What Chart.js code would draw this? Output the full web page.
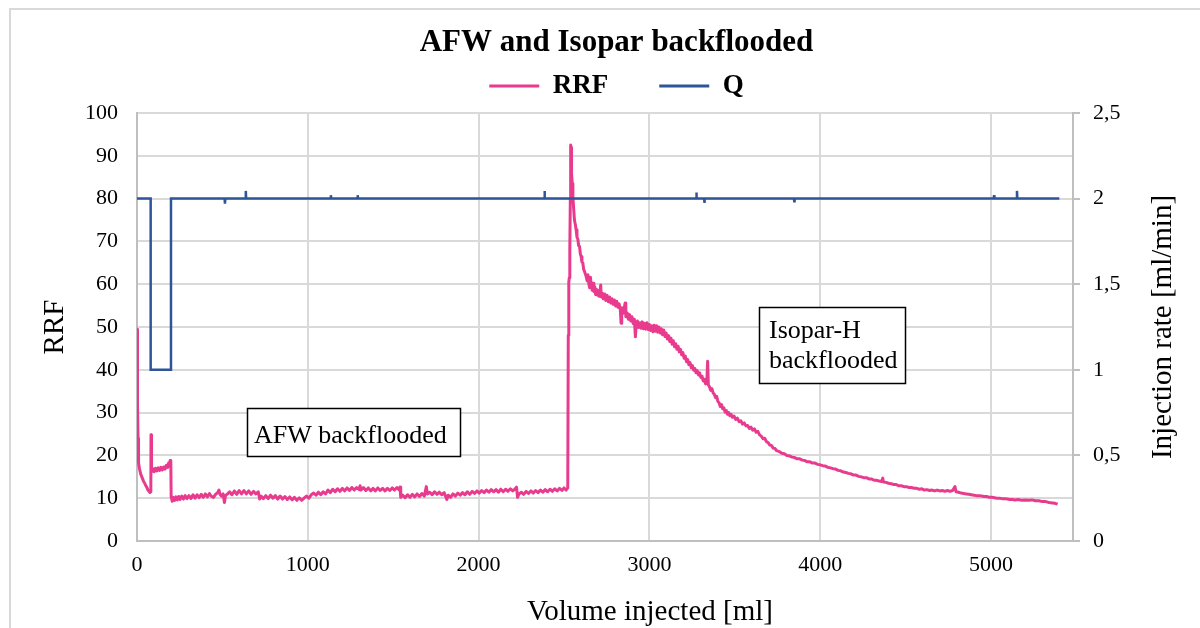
<!DOCTYPE html>
<html>
<head>
<meta charset="utf-8">
<script src="https://cdn.jsdelivr.net/npm/chart.js@4.4.1/dist/chart.umd.min.js"></script>
<style>
  html, body { margin: 0; padding: 0; background: #fff; width: 1200px; height: 628px; overflow: hidden; }
  #wrap { position: relative; width: 1200px; height: 628px; }
  #frame { position: absolute; left: 9px; top: 8px; width: 1400px; height: 900px;
           border-left: 2px solid #d9d9d9; border-top: 2px solid #d9d9d9; }
  canvas { position: absolute; left: 0; top: 0; }
</style>
</head>
<body>
<div id="wrap">
  <div id="frame"></div>
  <canvas id="chart" width="1200" height="628"></canvas>
</div>
<script>
// ---------------- DATA ----------------
const chartTitle = 'AFW and Isopar backflooded';
const seriesNames = ['RRF', 'Q'];
const xAxisTitle = 'Volume injected [ml]';
const yAxisTitle = 'RRF';
const y1AxisTitle = 'Injection rate [ml/min]';
const xTickValues = [0, 1000, 2000, 3000, 4000, 5000];
const yTickValues = [0, 10, 20, 30, 40, 50, 60, 70, 80, 90, 100];
const y1TickValues = [0, 0.5, 1, 1.5, 2, 2.5];

// RRF: [volume injected (ml), RRF]
const rrfInitial = [
  [0,49.5],[2,42],[4,32],[6,24],[8,20],[10,18.2],[15,16.8],[22,15.6],[30,14.8],[38,14.0],
  [46,13.4],[52,12.9],[57,12.6],[63,12.0],[70,11.6],[76,11.3],[79,11.9],[81,11.5],[82,24.8],
  [84,17.5],[86,16.2],[92,16.9],[100,16.2],[108,17.0],[116,16.4],[124,17.1],[132,16.5],
  [140,17.2],[148,16.6],[156,17.3],[164,16.8],[172,17.7],[180,17.2],[186,18.3],[190,17.6],
  [194,18.8],[198,18.2],[200,10.2]
];
const rrfAfw = [
  [202,10.1],[206,9.3],[212,10.2],[220,9.5],[228,10.3],[236,9.6],[244,10.4],[252,9.7],[262,10.5],
  [272,9.8],[282,10.6],[292,9.9],[304,10.6],[316,9.9],[328,10.8],[340,10.0],[352,10.8],[364,10.1],
  [376,10.9],[388,10.2],[400,11.0],[412,10.3],[424,11.1],[436,10.4],[448,10.2],[460,10.9],[472,11.3],
  [480,11.9],[486,10.9],[494,10.5],[504,11.0],[512,9.0],[518,10.6],[530,11.0],[542,11.5],[556,10.8],
  [570,11.7],[584,10.9],[598,11.8],[612,11.0],[626,11.8],[640,11.0],[654,11.7],[668,10.9],[682,11.6],
  [696,11.0],[710,11.5],[718,9.8],[726,10.5],[740,9.9],[754,10.6],[768,9.9],[782,10.7],[796,10.0],
  [810,10.6],[824,9.8],[838,10.5],[852,9.8],[866,10.4],[880,9.7],[894,10.3],[908,9.6],[922,10.2],
  [936,9.5],[950,10.1],[964,9.5],[978,10.0],[992,10.5],[1006,10.0],[1020,10.8],[1034,11.2],[1048,10.7],
  [1062,11.4],[1076,10.8],[1090,11.5],[1104,11.0],[1118,11.9],[1132,11.3],[1146,12.1],[1160,11.5],
  [1174,12.2],[1188,11.6],[1202,12.3],[1216,11.7],[1230,12.4],[1244,11.8],[1258,12.5],[1272,11.9],
  [1286,12.5],[1300,12.0],[1306,12.9],[1312,11.9],[1326,12.5],[1340,11.8],[1354,12.4],[1368,11.7],
  [1382,12.3],[1396,11.7],[1410,12.4],[1424,11.8],[1438,12.3],[1452,11.7],[1466,12.3],[1480,11.8],
  [1494,12.4],[1508,11.9],[1522,12.5],[1534,12.0],[1540,12.6],[1544,10.2],[1556,10.7],[1570,10.1],
  [1584,10.8],[1598,10.2],[1612,10.9],[1626,10.3],[1640,11.0],[1654,10.4],[1668,11.1],[1682,10.5],
  [1694,12.7],[1700,11.0],[1714,11.4],[1728,10.8],[1742,11.5],[1756,10.9],[1770,11.4],[1784,10.8],
  [1798,11.3],[1808,10.3],[1814,9.7],[1822,10.7],[1836,10.2],[1850,11.0],[1864,10.5],[1878,11.2],
  [1892,10.7],[1906,11.3],[1920,10.8],[1934,11.5],[1948,10.9],[1962,11.6],[1976,11.1],[1990,11.7],
  [2004,11.2],[2018,11.8],[2032,11.3],[2046,11.9],[2060,11.4],[2074,12.0],[2088,11.5],[2102,12.0],
  [2116,11.4],[2130,12.1],[2144,11.5],[2158,12.1],[2172,11.6],[2186,12.2],[2200,11.7],[2214,12.2],
  [2222,12.6],[2228,10.2],[2236,11.0],[2250,11.4],[2264,10.9],[2278,11.6],[2292,11.1],[2306,11.7],
  [2320,11.2],[2334,11.8],[2348,11.3],[2362,11.9],[2376,11.4],[2390,12.0],[2404,11.5],[2418,12.1],
  [2432,11.6],[2446,12.2],[2460,11.7],[2474,12.3],[2488,11.8],[2500,12.4],[2512,11.9],[2522,12.4]
];
const rrfIsoparPeak = [
  [2525,48],[2527,58],[2529,60.5],[2531,61.5],[2533,63],[2535,68],[2537,80],[2539,92.5],[2541,92],
  [2543,89],[2545,86],[2548,83.5],[2552,80.5],[2556,78],[2561,75],[2566,74],[2571,72.7],[2576,71],
  [2581,70.5],[2586,69],[2591,68.8],[2596,67],[2600,66.5],[2605,65.2],[2610,65],[2615,63.5],[2620,63],
  [2625,62.4],[2630,61.8],[2635,60.8],[2640,62.2],[2645,60.2],[2650,59.2],[2655,61.6],[2660,59.5],
  [2665,58.6],[2670,60.2],[2675,58.3],[2680,59.4],[2685,57.6],[2690,58.8],[2695,57.5],[2700,58.5],
  [2705,57.2],[2710,58.2],[2715,59.8],[2718,57.0],[2725,57.9],[2730,56.6],[2738,57.7],[2745,56.2],
  [2752,57.4],[2760,55.9],[2767,57.0],[2774,55.6],[2781,56.6],[2788,55.3],[2795,56.3],[2802,54.9],
  [2809,56.0],[2816,54.6],[2823,55.4],[2830,53.9],[2834,50.9],[2838,54.5],[2845,53.2],[2852,54.3],
  [2858,55.6],[2862,52.4],[2870,53.3],[2877,51.8],[2884,52.9],[2891,51.4],[2898,52.4],[2905,50.8],
  [2912,51.8],[2918,47.7],[2923,50.6],[2930,51.4],[2937,49.9],[2944,51.0],[2951,49.7],[2958,51.2],
  [2965,49.6],[2972,50.9],[2979,49.5],[2986,51.0],[2993,49.4],[3000,50.6],[3007,49.2],[3014,50.3],
  [3021,48.9],[3028,50.4],[3035,49.0],[3042,50.3],[3049,48.8],[3056,50.0],[3063,48.6],[3070,49.6],
  [3077,48.2],[3084,49.3],[3091,47.8],[3098,48.6],[3105,47.2],[3112,48.0],[3119,46.6],[3126,47.4],
  [3133,46.0],[3140,46.8],[3147,45.4],[3154,46.1],[3161,44.8],[3168,45.5],[3175,44.2],[3182,44.8],
  [3189,43.5],[3196,44.0],[3203,42.7],[3210,43.2],[3217,41.9],[3224,42.4],[3231,41.2],[3238,41.7],
  [3245,40.5],[3252,41.0],[3259,39.9],[3266,40.3],[3273,39.3],[3280,39.8],[3287,38.8],[3294,39.3],
  [3301,38.2],[3308,38.5],[3315,37.4],[3322,37.8],[3329,36.7],[3336,37.1],[3341,42.0],[3345,36.5],
  [3352,36.0],[3359,35.2],[3366,35.6],[3373,34.6],[3380,34.3],[3387,33.5],[3394,33.8],[3401,32.6],
  [3408,32.3],[3415,31.4],[3422,31.9],[3429,30.9],[3436,31.1],[3443,30.1],[3450,30.5],[3457,29.6],
  [3464,30.0],[3471,29.3],[3478,29.6],[3485,28.9]
];
const rrfIsoparTail = [
  [3495,29.2],[3505,28.4],[3515,28.7],[3525,27.9],[3535,28.1],[3545,27.3],[3555,27.6],[3565,26.9],
  [3575,27.0],[3585,26.3],[3595,26.6],[3605,25.9],[3615,26.2],[3625,25.4],[3635,25.6],[3645,24.8],
  [3655,24.5],[3665,23.9],[3675,24.0],[3685,23.2],[3695,23.0],[3705,22.4],[3715,22.3],[3725,21.7],
  [3735,21.6],[3745,21.1],[3760,20.9],[3775,20.5],[3790,20.4],[3805,20.0],[3820,19.9],[3835,19.6],
  [3850,19.5],[3865,19.2],[3880,19.2],[3895,18.9],[3910,18.8],[3925,18.5],[3940,18.5],[3955,18.2],
  [3970,18.2],[3985,17.9],[4000,17.8],[4015,17.6],[4030,17.5],[4045,17.2],[4060,17.1],[4075,16.9],
  [4090,16.8],[4105,16.5],[4120,16.4],[4135,16.1],[4150,16.0],[4165,15.8],[4180,15.7],[4195,15.4],
  [4210,15.4],[4225,15.1],[4240,15.0],[4255,14.8],[4270,14.8],[4285,14.5],[4300,14.5],[4315,14.2],
  [4330,14.2],[4345,14.0],[4360,13.9],[4366,14.7],[4370,13.8],[4385,13.7],[4400,13.5],[4415,13.4],
  [4430,13.2],[4445,13.2],[4460,12.9],[4475,12.9],[4490,12.7],[4505,12.7],[4520,12.5],[4535,12.5],
  [4550,12.3],[4565,12.3],[4580,12.1],[4595,12.2],[4610,11.9],[4625,12.0],[4640,11.8],[4655,11.9],
  [4670,11.7],[4685,11.9],[4700,11.7],[4715,11.8],[4730,11.6],[4745,11.8],[4760,11.6],[4775,11.8],
  [4789,12.7],[4795,11.5],[4810,11.4],[4825,11.2],[4840,11.1],[4855,11.0],[4870,10.9],[4885,10.8],
  [4900,10.7],[4915,10.6],[4930,10.6],[4945,10.5],[4960,10.4],[4975,10.4],[4990,10.2],[5005,10.2],
  [5020,10.1],[5035,10.0],[5050,10.0],[5065,9.9],[5080,9.9],[5095,9.8],[5110,9.7],[5125,9.7],
  [5140,9.6],[5160,9.7],[5180,9.5],[5200,9.6],[5220,9.5],[5240,9.6],[5260,9.4],[5280,9.4],
  [5300,9.2],[5320,9.2],[5340,9.0],[5360,8.9],[5375,8.8],[5390,8.6]
];

// Q: [volume injected (ml), injection rate (ml/min)]
const qSteps = [
  [0,2],[80,2],[80,1],[199,1],[199,2],[513,2],[515,1.97],[517,2],[635,2],[637,2.045],[639,2],
  [1133,2],[1135,2.02],[1137,2],[1290,2],[1292,2.02],[1294,2],[2384,2],[2386,2.045],[2388,2],
  [3273,2],[3275,2.035],[3277,2],[3320,2],[3322,1.975],[3324,2],[3846,2],[3848,1.985],[3850,2],
  [5016,2],[5018,2.02],[5020,2],[5150,2],[5152,2.045],[5154,2],[5400,2]
];

// Text boxes inside the plot
const annotationTexts = [['AFW backflooded'], ['Isopar-H', 'backflooded']];

// ---------------- STYLE / LAYOUT ----------------
const SERIF = "'Liberation Serif', 'Times New Roman', serif";
const PINK = '#E93B8E';
const BLUE = '#2E5597';
const GRID = '#d9d9d9';
const AXIS = '#bfbfbf';
const TXT = '#000000';
const PAD_LEFT = 33;
const AREA = { left: 137, right: 1073, top: 113, bottom: 541 };
const annotationBoxes = [
  { rect: [247.5, 408.5, 213, 48], textX: 254, baselines: [443] },
  { rect: [759.5, 307.5, 146, 76], textX: 769, baselines: [338, 368] }
];
const xTitlePos = { x: 650, baseline: 620 };
const y1TitlePos = { x: 1163 };

const toPoints = arr => arr.map(([x, y]) => ({ x, y }));
const rrfData = toPoints([...rrfInitial, ...rrfAfw, ...rrfIsoparPeak, ...rrfIsoparTail]);
const qData = toPoints(qSteps);

const extrasPlugin = {
  id: 'extras',
  afterDatasetsDraw(chart) {
    const ctx = chart.ctx;
    ctx.save();
    ctx.font = `26px ${SERIF}`;
    ctx.textAlign = 'left';
    ctx.textBaseline = 'alphabetic';
    annotationBoxes.forEach((b, i) => {
      const [x, y, w, h] = b.rect;
      ctx.fillStyle = '#ffffff';
      ctx.fillRect(x, y, w, h);
      ctx.strokeStyle = '#000000';
      ctx.lineWidth = 1.5;
      ctx.strokeRect(x, y, w, h);
      ctx.fillStyle = TXT;
      annotationTexts[i].forEach((line, j) => ctx.fillText(line, b.textX, b.baselines[j]));
    });
    ctx.restore();
  },
  afterDraw(chart) {
    const ctx = chart.ctx;
    const ca = chart.chartArea;
    ctx.save();
    ctx.font = `29px ${SERIF}`;
    ctx.fillStyle = TXT;
    ctx.textAlign = 'center';
    ctx.textBaseline = 'alphabetic';
    ctx.fillText(xAxisTitle, xTitlePos.x, xTitlePos.baseline);
    ctx.translate(y1TitlePos.x, (ca.top + ca.bottom) / 2);
    ctx.rotate(-Math.PI / 2);
    ctx.textBaseline = 'middle';
    ctx.fillText(y1AxisTitle, 0, 0);
    ctx.restore();
  }
};

const tickFont = { family: SERIF, size: 22 };

new Chart(document.getElementById('chart'), {
  type: 'scatter',
  data: {
    datasets: [
      { label: seriesNames[0], data: rrfData, yAxisID: 'y', showLine: true,
        borderColor: PINK, backgroundColor: PINK, borderWidth: 3, pointRadius: 0,
        pointHoverRadius: 0, tension: 0, borderJoinStyle: 'round', order: 1 },
      { label: seriesNames[1], data: qData, yAxisID: 'y1', showLine: true,
        borderColor: BLUE, backgroundColor: BLUE, borderWidth: 2.5, pointRadius: 0,
        pointHoverRadius: 0, tension: 0, order: 0 }
    ]
  },
  plugins: [extrasPlugin],
  options: {
    responsive: false,
    animation: false,
    devicePixelRatio: 1,
    events: [],
    layout: { padding: { left: PAD_LEFT, right: 0, top: 0, bottom: 0 } },
    plugins: {
      tooltip: { enabled: false },
      title: {
        display: true, text: chartTitle, color: TXT,
        font: { family: SERIF, size: 31, weight: 'bold' },
        padding: { top: 24, bottom: -39.7 }
      },
      legend: {
        display: true, position: 'top',
        labels: {
          color: TXT,
          font: { family: SERIF, size: 27, weight: 'bold' },
          boxWidth: 50, boxHeight: 3, padding: 51,
          sort: (a, b) => a.datasetIndex - b.datasetIndex,
          generateLabels: chart => Chart.defaults.plugins.legend.labels.generateLabels(chart)
            .map(l => ({ ...l, lineWidth: 0, fillStyle: l.strokeStyle }))
        }
      },
      subtitle: {
        display: true, text: '', weight: 500,
        font: { size: 1, lineHeight: 0 },
        padding: { top: 3.5, bottom: 0 }
      }
    },
    scales: {
      x: {
        type: 'linear', position: 'bottom', min: 0, max: 5480,
        afterBuildTicks: s => { s.ticks = xTickValues.map(v => ({ value: v })); },
        afterFit: s => { s.height = 628 - AREA.bottom; },
        ticks: { font: tickFont, color: TXT, padding: 11, maxRotation: 0, callback: v => String(v) },
        grid: { color: GRID, lineWidth: 2, drawTicks: false },
        border: { color: AXIS, width: 2 },
        title: { display: false, text: xAxisTitle }
      },
      y: {
        type: 'linear', position: 'left', min: 0, max: 100,
        afterBuildTicks: s => { s.ticks = yTickValues.map(v => ({ value: v })); },
        afterFit: s => { s.width = AREA.left - PAD_LEFT; },
        ticks: { font: tickFont, color: TXT, padding: 19, callback: v => String(v) },
        grid: { color: GRID, lineWidth: 2, drawTicks: false },
        border: { color: AXIS, width: 2 },
        title: { display: true, text: yAxisTitle, color: TXT, font: { family: SERIF, size: 29 },
                 padding: { top: 5, bottom: 0 } }
      },
      y1: {
        type: 'linear', position: 'right', min: 0, max: 2.5,
        afterBuildTicks: s => { s.ticks = y1TickValues.map(v => ({ value: v })); },
        afterFit: s => { s.width = 1200 - AREA.right; },
        ticks: { font: tickFont, color: TXT, padding: 13, callback: v => String(v).replace('.', ',') },
        grid: { drawOnChartArea: false, color: AXIS, tickColor: AXIS, lineWidth: 2, tickLength: 7, drawTicks: true },
        border: { color: AXIS, width: 2 },
        title: { display: false, text: y1AxisTitle }
      }
    }
  }
});
</script>
</body>
</html>
